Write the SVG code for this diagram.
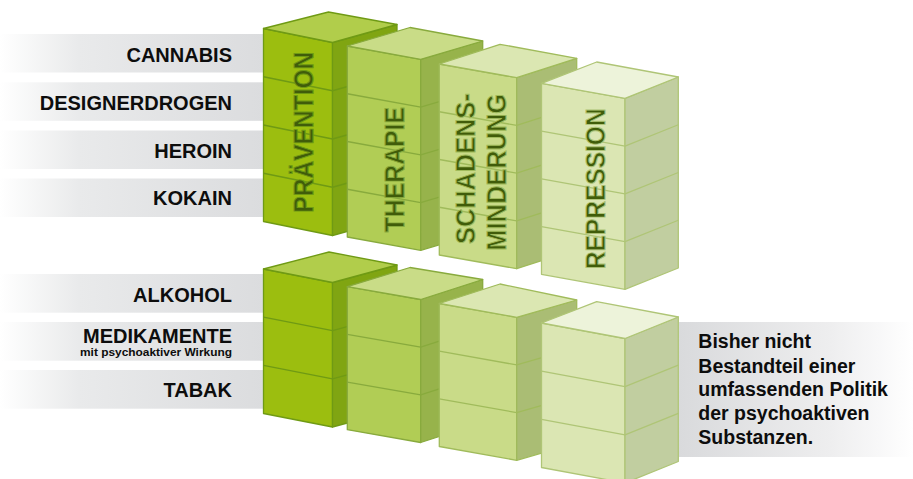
<svg xmlns="http://www.w3.org/2000/svg" width="913" height="479" viewBox="0 0 913 479">
<defs>
<linearGradient id="barL" x1="0" y1="0" x2="1" y2="0">
<stop offset="0" stop-color="#ffffff"/>
<stop offset="0.3" stop-color="#e9eaeb"/>
<stop offset="1" stop-color="#dbdcde"/>
</linearGradient>
<linearGradient id="barR" x1="0" y1="0" x2="1" y2="0">
<stop offset="0" stop-color="#d9dadc"/>
<stop offset="0.65" stop-color="#eeeeef"/>
<stop offset="1" stop-color="#ffffff"/>
</linearGradient>
<style>
.lbl{font-family:"Liberation Sans",Arial,sans-serif;font-weight:bold;font-size:20px;fill:#0d0d0d;text-anchor:end}
.sub{font-family:"Liberation Sans",Arial,sans-serif;font-weight:bold;font-size:11.5px;fill:#0d0d0d;text-anchor:end}
.note{font-family:"Liberation Sans",Arial,sans-serif;font-weight:bold;font-size:19.5px;fill:#0d0d0d}
.ct{font-family:"Liberation Sans",Arial,sans-serif;font-weight:bold;font-size:27px;fill:#405c0a}
.c1 .f{fill:#9cbe0f}.c1 .s{fill:#80a512}.c1 .t{fill:#b1cd4b}.c1 *{stroke:#6f9a14}
.c2 .f{fill:#b1cd55}.c2 .s{fill:#97b34b}.c2 .t{fill:#c9dc87}.c2 *{stroke:#88aa3d}
.c3 .f{fill:#c9db88}.c3 .s{fill:#aabd74}.c3 .t{fill:#dbe7b2}.c3 *{stroke:#a0bb5b}
.c4 .f{fill:#dbe6b3}.c4 .s{fill:#c1cea0}.c4 .t{fill:#edf3da}.c4 *{stroke:#afc576}
polygon,polyline{stroke-width:1.3;stroke-linejoin:round}
polyline{fill:none}
</style>
</defs>

<g id="bars">
<rect x="0" y="34" width="264" height="38.5" fill="url(#barL)"/>
<rect x="0" y="82.3" width="264" height="38.5" fill="url(#barL)"/>
<rect x="0" y="130.5" width="264" height="38.5" fill="url(#barL)"/>
<rect x="0" y="178.5" width="264" height="38.5" fill="url(#barL)"/>
<rect x="0" y="274" width="264" height="38.7" fill="url(#barL)"/>
<rect x="0" y="322" width="264" height="38.7" fill="url(#barL)"/>
<rect x="0" y="370" width="264" height="38.7" fill="url(#barL)"/>
<rect x="679" y="322" width="234" height="135" fill="url(#barR)"/>
</g>

<g id="labels">
<text class="lbl" x="232" y="61.7">CANNABIS</text>
<text class="lbl" x="232" y="110">DESIGNERDROGEN</text>
<text class="lbl" x="232" y="157.7">HEROIN</text>
<text class="lbl" x="232" y="205">KOKAIN</text>
<text class="lbl" x="232" y="301.7">ALKOHOL</text>
<text class="lbl" x="232" y="343.3">MEDIKAMENTE</text>
<text class="sub" x="232" y="356" textLength="152" lengthAdjust="spacingAndGlyphs">mit psychoaktiver Wirkung</text>
<text class="lbl" x="232" y="396.7">TABAK</text>
</g>

<g id="top-praevention" class="c1">
<polygon class="f" points="263.5,28.5 332.5,42.5 332.5,235.5 263.5,221.5"/>
<polygon class="s" points="332.5,42.5 397,24.5 397,217.5 332.5,235.5"/>
<polygon class="t" points="263.5,28.5 332.5,42.5 397,24.5 328.5,12"/>
<polyline points="263.5,76.75 332.5,90.75 397,72.75"/>
<polyline points="263.5,125 332.5,139 397,121"/>
<polyline points="263.5,173.25 332.5,187.25 397,169.25"/>
<text class="ct" transform="translate(312.7,212.7) rotate(-90)" textLength="161" lengthAdjust="spacingAndGlyphs" stroke="none">PRÄVENTION</text>
</g>

<g id="top-therapie" class="c2">
<polygon class="f" points="347.3,46 420.7,59.3 420.7,250.3 347.3,237"/>
<polygon class="s" points="420.7,59.3 482.7,41 482.7,232 420.7,250.3"/>
<polygon class="t" points="347.3,46 420.7,59.3 482.7,41 410,27.5"/>
<polyline points="347.3,93.75 420.7,107.05 482.7,88.75"/>
<polyline points="347.3,141.5 420.7,154.8 482.7,136.5"/>
<polyline points="347.3,189.25 420.7,202.55 482.7,184.25"/>
<text class="ct" transform="translate(404,232.3) rotate(-90)" textLength="125.3" lengthAdjust="spacingAndGlyphs" stroke="none">THERAPIE</text>
</g>

<g id="top-schadensminderung" class="c3">
<polygon class="f" points="439.3,64 516.7,77.7 516.7,268.7 439.3,255"/>
<polygon class="s" points="516.7,77.7 576.7,58.3 576.7,249.3 516.7,268.7"/>
<polygon class="t" points="439.3,64 516.7,77.7 576.7,58.3 500,44.3"/>
<polyline points="439.3,111.75 516.7,125.45 576.7,106.05"/>
<polyline points="439.3,159.5 516.7,173.2 576.7,153.8"/>
<polyline points="439.3,207.25 516.7,220.95 576.7,201.55"/>
<text class="ct" transform="translate(475,244) rotate(-90)" textLength="150.7" lengthAdjust="spacingAndGlyphs" stroke="none">SCHADENS-</text>
<text class="ct" transform="translate(506,250.7) rotate(-90)" textLength="156.7" lengthAdjust="spacingAndGlyphs" stroke="none">MINDERUNG</text>
</g>

<g id="top-repression" class="c4">
<polygon class="f" points="541.5,83.3 625,98.3 625,289.3 541.5,274.3"/>
<polygon class="s" points="625,98.3 678.3,77 678.3,268 625,289.3"/>
<polygon class="t" points="541.5,83.3 625,98.3 678.3,77 596.7,62"/>
<polyline points="541.5,131.05 625,146.05 678.3,124.75"/>
<polyline points="541.5,178.8 625,193.8 678.3,172.5"/>
<polyline points="541.5,226.55 625,241.55 678.3,220.25"/>
<text class="ct" transform="translate(605,269.3) rotate(-90)" textLength="161" lengthAdjust="spacingAndGlyphs" stroke="none">REPRESSION</text>
</g>

<g id="bottom-praevention" class="c1">
<polygon class="f" points="263.5,269 332.5,282.5 332.5,427 263.5,413.5"/>
<polygon class="s" points="332.5,282.5 397,265 397,409.5 332.5,427"/>
<polygon class="t" points="263.5,269 332.5,282.5 397,265 329,252"/>
<polyline points="263.5,317.17 332.5,330.67 397,313.17"/>
<polyline points="263.5,365.33 332.5,378.83 397,361.33"/>
</g>

<g id="bottom-therapie" class="c2">
<polygon class="f" points="347.3,286.7 420.7,299.5 420.7,442.5 347.3,429.7"/>
<polygon class="s" points="420.7,299.5 482.7,279.5 482.7,422.5 420.7,442.5"/>
<polygon class="t" points="347.3,286.7 420.7,299.5 482.7,279.5 410,267.5"/>
<polyline points="347.3,334.37 420.7,347.17 482.7,327.17"/>
<polyline points="347.3,382.03 420.7,394.83 482.7,374.83"/>
</g>

<g id="bottom-schadensminderung" class="c3">
<polygon class="f" points="439.3,303.5 516.7,317.3 516.7,460.3 439.3,446.5"/>
<polygon class="s" points="516.7,317.3 576.7,300 576.7,443 516.7,460.3"/>
<polygon class="t" points="439.3,303.5 516.7,317.3 576.7,300 500,284"/>
<polyline points="439.3,351.17 516.7,364.97 576.7,347.67"/>
<polyline points="439.3,398.83 516.7,412.63 576.7,395.33"/>
</g>

<g id="bottom-repression" class="c4">
<polygon class="f" points="541.5,323 625,338.5 625,483 541.5,467.5"/>
<polygon class="s" points="625,338.5 678.3,317 678.3,461.5 625,483"/>
<polygon class="t" points="541.5,323 625,338.5 678.3,317 596.7,301.7"/>
<polyline points="541.5,371.17 625,386.67 678.3,365.17"/>
<polyline points="541.5,419.33 625,434.83 678.3,413.33"/>
</g>

<g id="note">
<text class="note" x="698.3" y="348.3">Bisher nicht</text>
<text class="note" x="698.3" y="372.5">Bestandteil einer</text>
<text class="note" x="698.3" y="396.3">umfassenden Politik</text>
<text class="note" x="698.3" y="420.2">der psychoaktiven</text>
<text class="note" x="698.3" y="444">Substanzen.</text>
</g>
</svg>
